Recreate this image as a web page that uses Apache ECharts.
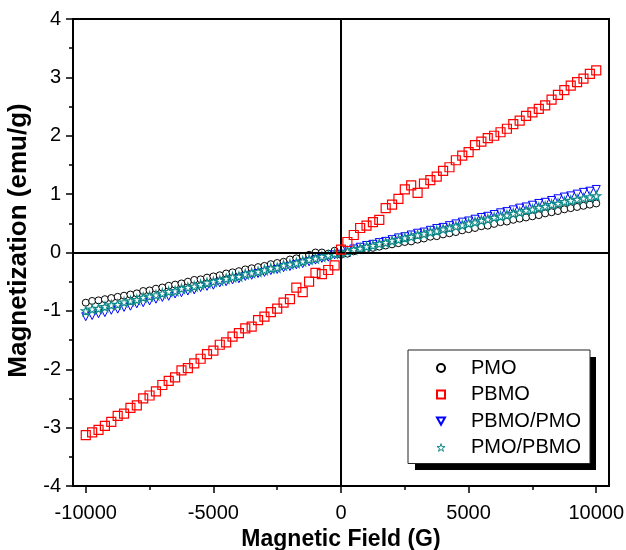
<!DOCTYPE html>
<html>
<head>
<meta charset="utf-8">
<script src="https://cdn.jsdelivr.net/npm/echarts@6/dist/echarts.min.js"></script>
<style>
  html, body { margin: 0; padding: 0; background: #fff; }
  #main { width: 626px; height: 550px; }
</style>
</head>
<body>
<div id="main"></div>
<script>
// magnetic field (G)
var field = [-10000, -9750, -9500, -9250, -9000, -8750, -8500, -8250, -8000, -7750,
    -7500, -7250, -7000, -6750, -6500, -6250, -6000, -5750, -5500, -5250,
    -5000, -4750, -4500, -4250, -4000, -3750, -3500, -3250, -3000, -2750,
    -2500, -2250, -2000, -1750, -1500, -1250, -1000, -750, -500, -250,
    0, 250, 500, 750, 1000, 1250, 1500, 1750, 2000, 2250,
    2500, 2750, 3000, 3250, 3500, 3750, 4000, 4250, 4500, 4750,
    5000, 5250, 5500, 5750, 6000, 6250, 6500, 6750, 7000, 7250,
    7500, 7750, 8000, 8250, 8500, 8750, 9000, 9250, 9500, 9750, 10000];

// magnetization (emu/g)
var pmo = [-0.86, -0.83, -0.82, -0.80, -0.78, -0.76, -0.74, -0.72, -0.70, -0.66,
    -0.65, -0.62, -0.60, -0.57, -0.55, -0.53, -0.50, -0.47, -0.46, -0.43,
    -0.41, -0.39, -0.36, -0.34, -0.32, -0.29, -0.27, -0.25, -0.23, -0.20,
    -0.18, -0.16, -0.12, -0.10, -0.06, -0.04, 0.00, 0.00, -0.02, 0.03,
    -0.04, -0.02, 0.02, 0.04, 0.06, 0.08, 0.10, 0.12, 0.14, 0.16,
    0.18, 0.19, 0.22, 0.24, 0.27, 0.28, 0.31, 0.33, 0.35, 0.38,
    0.40, 0.42, 0.45, 0.46, 0.49, 0.52, 0.53, 0.56, 0.58, 0.60,
    0.62, 0.64, 0.67, 0.69, 0.71, 0.74, 0.76, 0.78, 0.80, 0.82, 0.84];

var pbmo = [-3.13, -3.08, -3.04, -2.97, -2.90, -2.80, -2.76, -2.66, -2.62, -2.50,
    -2.45, -2.38, -2.27, -2.20, -2.14, -2.02, -1.98, -1.90, -1.82, -1.74,
    -1.68, -1.58, -1.54, -1.44, -1.38, -1.30, -1.27, -1.16, -1.10, -1.02,
    -0.96, -0.86, -0.80, -0.60, -0.68, -0.50, -0.35, -0.37, -0.30, -0.22,
    0.05, 0.18, 0.30, 0.42, 0.46, 0.52, 0.56, 0.76, 0.82, 0.92,
    1.08, 1.15, 1.02, 1.18, 1.24, 1.30, 1.40, 1.46, 1.58, 1.66,
    1.72, 1.84, 1.90, 1.96, 2.00, 2.06, 2.12, 2.20, 2.26, 2.34,
    2.40, 2.46, 2.52, 2.62, 2.70, 2.78, 2.86, 2.92, 2.98, 3.06, 3.12];

var pbmoPmo = [-1.10, -1.08, -1.05, -1.03, -0.99, -0.97, -0.94, -0.92, -0.88, -0.86,
    -0.83, -0.80, -0.77, -0.75, -0.71, -0.69, -0.66, -0.64, -0.60, -0.58,
    -0.56, -0.52, -0.50, -0.47, -0.45, -0.41, -0.39, -0.36, -0.34, -0.31,
    -0.29, -0.26, -0.24, -0.21, -0.19, -0.16, -0.13, -0.10, -0.08, -0.04,
    -0.03, 0.03, 0.06, 0.09, 0.12, 0.14, 0.17, 0.19, 0.22, 0.25,
    0.27, 0.30, 0.33, 0.35, 0.38, 0.41, 0.43, 0.46, 0.49, 0.52,
    0.54, 0.57, 0.60, 0.62, 0.65, 0.68, 0.70, 0.73, 0.76, 0.78,
    0.81, 0.84, 0.86, 0.89, 0.92, 0.95, 0.97, 1.00, 1.03, 1.05, 1.08];

var pmoPbmo = [-1.00, -0.97, -0.96, -0.93, -0.90, -0.89, -0.85, -0.83, -0.81, -0.77,
    -0.75, -0.73, -0.70, -0.67, -0.66, -0.62, -0.60, -0.58, -0.55, -0.52,
    -0.50, -0.48, -0.45, -0.42, -0.41, -0.37, -0.35, -0.33, -0.30, -0.27,
    -0.26, -0.22, -0.20, -0.18, -0.15, -0.12, -0.10, -0.07, -0.05, -0.02,
    0.00, 0.02, 0.05, 0.07, 0.10, 0.12, 0.15, 0.17, 0.20, 0.22,
    0.25, 0.27, 0.30, 0.32, 0.35, 0.37, 0.40, 0.42, 0.45, 0.47,
    0.50, 0.52, 0.55, 0.57, 0.60, 0.62, 0.64, 0.67, 0.69, 0.72,
    0.74, 0.77, 0.79, 0.82, 0.84, 0.87, 0.89, 0.91, 0.93, 0.95, 0.97];

var xMajor = [-10000, -5000, 0, 5000, 10000];
var xMinor = [-7500, -2500, 2500, 7500];

function pairs(ys) {
    return field.map(function (x, i) { return [x, ys[i]]; });
}

var starPath = 'path://M50,2 L61,36 L97,36 L68,57 L79,92 L50,71 L21,92 L32,57 L3,36 L39,36 Z';
var triDown = 'path://M0,0 L100,0 L50,90 Z';
var font = 'Liberation Sans, Arial, sans-serif';

var myChart = echarts.init(document.getElementById('main'));
var option = {
    animation: false,
    backgroundColor: '#fff',
    grid: {
        left: 73, right: 17, top: 19, bottom: 64,
        outerBoundsMode: 'none', containLabel: false,
        show: true, borderColor: '#000', borderWidth: 2, backgroundColor: 'transparent'
    },
    graphic: [{
        // legend drop shadow
        type: 'rect', z: 3, silent: true,
        shape: { x: 415, y: 357, width: 181, height: 113 },
        style: { fill: '#000' }
    }],
    legend: {
        orient: 'vertical',
        left: 408, top: 350, z: 5,
        padding: [8, 9, 6, 28],
        itemWidth: 8, itemHeight: 8,
        itemGap: 6.5,
        backgroundColor: '#fff',
        borderColor: '#222', borderWidth: 1,
        textStyle: { fontFamily: font, fontSize: 20, color: '#000', padding: [0, 0, 0, 21] },
        data: ['PMO', 'PBMO', 'PBMO/PMO', {
            name: 'PMO/PBMO',
            itemStyle: { color: '#ffffff', borderColor: '#108a8a', borderWidth: 1 }
        }]
    },
    xAxis: [{
        type: 'value', min: -10500, max: 10500,
        name: 'Magnetic Field (G)', nameLocation: 'middle', nameGap: 40,
        nameTextStyle: { fontFamily: font, fontSize: 23, fontWeight: 'bold', color: '#000' },
        axisLine: { onZero: false, lineStyle: { color: '#000', width: 2 } },
        axisTick: { customValues: xMajor, length: 7, lineStyle: { color: '#000', width: 1.5 } },
        axisLabel: {
            customValues: xMajor, margin: 17, fontFamily: font, fontSize: 20, color: '#000',
            formatter: function (v) { return String(v); }
        },
        splitLine: { show: false }
    }, {
        type: 'value', min: -10500, max: 10500, position: 'bottom',
        axisLine: { show: false, onZero: false },
        axisTick: { customValues: xMinor, length: 4, lineStyle: { color: '#000', width: 1.5 } },
        axisLabel: { show: false },
        splitLine: { show: false }
    }],
    yAxis: {
        type: 'value', min: -4, max: 4, interval: 1,
        name: 'Magnetization (emu/g)', nameLocation: 'middle', nameGap: 37,
        nameTextStyle: { fontFamily: font, fontSize: 26, fontWeight: 'bold', color: '#000', padding: [0, 0, 0, 24] },
        axisLine: { onZero: false, lineStyle: { color: '#000', width: 2 } },
        axisTick: { length: 7, lineStyle: { color: '#000', width: 1.5 } },
        minorTick: { show: true, splitNumber: 2, length: 4, lineStyle: { color: '#000', width: 1.5 } },
        axisLabel: { margin: 12, fontFamily: font, fontSize: 20, color: '#000' },
        splitLine: { show: false }
    },
    series: [
        {
            name: 'PMO', type: 'scatter', data: pairs(pmo),
            symbol: 'circle', symbolSize: 7, z: 2,
            itemStyle: { color: '#fff', borderColor: '#000', borderWidth: 1, opacity: 1 },
            markLine: {
                silent: true, symbol: 'none', label: { show: false },
                lineStyle: { color: '#000', width: 2, type: 'solid' },
                data: [{ xAxis: 0 }, { yAxis: 0 }]
            }
        },
        {
            name: 'PBMO', type: 'scatter', data: pairs(pbmo),
            symbol: 'rect', symbolSize: 9, z: 5,
            itemStyle: { color: 'rgba(255,255,255,0)', borderColor: '#ff0000', borderWidth: 1.2, opacity: 1 }
        },
        {
            name: 'PBMO/PMO', type: 'scatter', data: pairs(pbmoPmo),
            symbol: triDown, symbolSize: 8, z: 3,
            itemStyle: { color: 'rgba(255,255,255,0)', borderColor: '#0000ff', borderWidth: 1, opacity: 1 }
        },
        {
            name: 'PMO/PBMO', type: 'scatter', data: pairs(pmoPbmo),
            symbol: starPath, symbolSize: 9, z: 4,
            itemStyle: { color: '#ffffff', borderColor: '#108a8a', borderWidth: 1.2, opacity: 1 }
        }
    ]
};
myChart.setOption(option);
</script>
</body>
</html>
